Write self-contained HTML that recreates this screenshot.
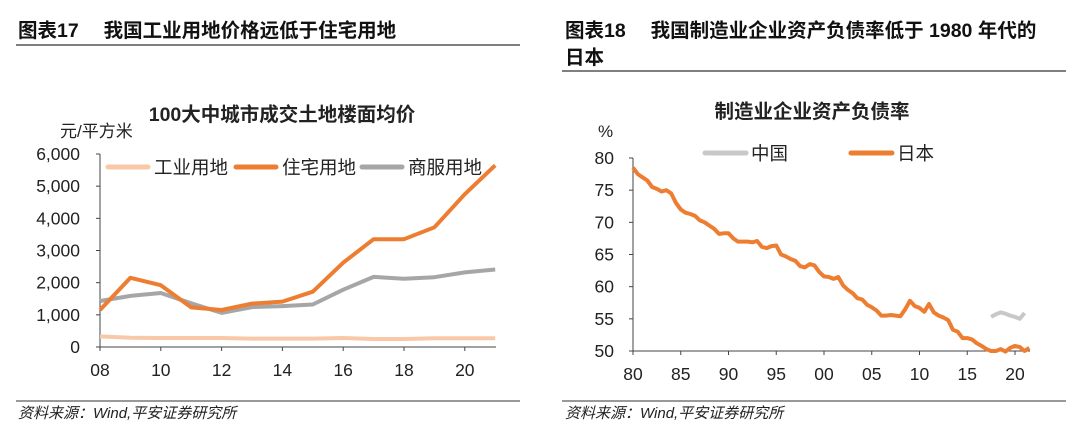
<!DOCTYPE html>
<html><head><meta charset="utf-8"><style>
body{margin:0;background:#fff;width:1080px;height:439px;overflow:hidden;font-family:"Liberation Sans","Noto Sans CJK SC",sans-serif;}
svg text{font-family:"Liberation Sans","Noto Sans CJK SC",sans-serif;}
</style></head><body>
<svg id="s" width="1080" height="439" viewBox="0 0 1080 439">
<g>
<text x="18" y="37" font-size="19.5" font-weight="bold" fill="#111">图表17　 我国工业用地价格远低于住宅用地</text>
<line x1="16" y1="45" x2="520" y2="45" stroke="#333" stroke-width="1.3"/>
</g>
<g>
<text x="565" y="37" font-size="19.5" font-weight="bold" fill="#111">图表18　 我国制造业企业资产负债率低于 1980 年代的</text>
<text x="565" y="64" font-size="19.5" font-weight="bold" fill="#111">日本</text>
<line x1="562" y1="71" x2="1066" y2="71" stroke="#333" stroke-width="1.3"/>
</g>
<text x="282" y="121" font-size="19.5" font-weight="bold" text-anchor="middle" fill="#222">100大中城市成交土地楼面均价</text>
<text x="60" y="137" font-size="17" fill="#222">元/平方米</text>
<text x="812" y="118" font-size="19.5" font-weight="bold" text-anchor="middle" fill="#222">制造业企业资产负债率</text>
<text x="598" y="137" font-size="17" fill="#222">%</text>
<g id="left"></g>
<g id="right"></g>
<g>
<line x1="16" y1="401" x2="520" y2="401" stroke="#333"/>
<line x1="562" y1="401" x2="1066" y2="401" stroke="#333"/>
<text x="18" y="418" font-size="15" font-style="italic" fill="#222">资料来源：Wind,平安证券研究所</text>
<text x="565" y="418" font-size="15" font-style="italic" fill="#222">资料来源：Wind,平安证券研究所</text>
</g>
</svg>
<script>
const NS="http://www.w3.org/2000/svg";
const leftYears=[2008,2009,2010,2011,2012,2013,2014,2015,2016,2017,2018,2019,2020,2021];
const industrialPrice=[330,290,280,280,280,260,260,260,280,250,250,270,270,270];
const residentialPrice=[1150,2150,1920,1230,1150,1350,1410,1720,2620,3350,3350,3720,4750,5650];
const commercialPrice=[1430,1590,1680,1360,1060,1240,1270,1320,1780,2180,2120,2170,2320,2410];
const leftYTicks=[0,1000,2000,3000,4000,5000,6000];
const leftXTicks=["08","10","12","14","16","18","20"];
const japanRatio=[78.5,77.5,77,76.5,75.5,75.2,74.8,75,74.5,73,72,71.5,71.3,71,70.3,70,69.5,69,68.2,68.3,68.3,67.5,67,67,67,66.9,67.1,66.2,66,66.3,66.4,65,64.7,64.3,64,63.2,63,63.5,63.3,62.3,61.6,61.5,61.2,61.5,60.2,59.5,59,58.2,58,57.2,56.8,56.3,55.5,55.5,55.6,55.5,55.4,56.5,57.8,57,56.7,56.1,57.3,56,55.5,55.2,54.8,53.3,53,52,52,51.8,51.2,50.8,50.3,50,50,50.3,49.9,50.5,50.8,50.6,50,50.5];
const japanStart=1980, step=0.5;
const chinaRatio=[55.3,55.7,56,55.8,55.5,55.3,55.0,55.9];
const chinaStart=2017.5;
const rightYTicks=[50,55,60,65,70,75,80];
const rightXTicks=["80","85","90","95","00","05","10","15","20"];

function el(tag,attrs,parent,txt){const e=document.createElementNS(NS,tag);for(const k in attrs)e.setAttribute(k,attrs[k]);if(txt!=null)e.textContent=txt;parent.appendChild(e);return e;}

const L=document.getElementById('left');
const lx=y=>100+(y-2008)*30.4, ly=v=>347-v/6000*193;
el('line',{x1:100,y1:154,x2:100,y2:347,stroke:'#444'},L);
el('line',{x1:100,y1:347,x2:496,y2:347,stroke:'#444'},L);
leftYTicks.forEach(t=>{const y=ly(t);el('line',{x1:96,y1:y,x2:100,y2:y,stroke:'#444'},L);
 const tx=el('text',{x:80,y:y+6,'font-size':17.5,'text-anchor':'end',fill:'#222'},L,t.toLocaleString('en-US'));
 
 });
leftXTicks.forEach((t,i)=>{const x=lx(2008+i*2);el('line',{x1:x,y1:347,x2:x,y2:351,stroke:'#444'},L);
 const tx=el('text',{x:x,y:376,'font-size':17.5,'text-anchor':'middle',fill:'#222'},L,t);
 
 });
function line(g,xs,vals,fx,fy,color,w,name){const p=vals.map((v,i)=>fx(xs[i]).toFixed(1)+','+fy(v).toFixed(1)).join(' ');
 const e=el('polyline',{points:p,fill:'none',stroke:color,'stroke-width':w,'stroke-linejoin':'round'},g);
 
 }
line(L,leftYears,industrialPrice,lx,ly,'#f8c8a8',4,'industrial-line');
line(L,leftYears,commercialPrice,lx,ly,'#a6a6a6',4,'commercial-line');
line(L,leftYears,residentialPrice,lx,ly,'#ed7d31',4,'residential-line');
[['工业用地','#f8c8a8',108],['住宅用地','#ed7d31',236],['商服用地','#a6a6a6',362]].forEach(([t,c,x])=>{
 const g=el('g',{},L);
 
 
 el('line',{x1:x,y1:167,x2:x+40,y2:167,stroke:c,'stroke-width':5,'stroke-linecap':'round'},g);
 el('text',{x:x+46,y:174,'font-size':18.5,fill:'#222'},g,t);});

const R=document.getElementById('right');
const rx=y=>633+(y-1980)*9.55, ry=v=>351-(v-50)/30*193;
el('line',{x1:633,y1:158,x2:633,y2:351,stroke:'#444'},R);
el('line',{x1:633,y1:351,x2:1030,y2:351,stroke:'#444'},R);
rightYTicks.forEach(t=>{const y=ry(t);el('line',{x1:629,y1:y,x2:633,y2:y,stroke:'#444'},R);
 const tx=el('text',{x:614,y:y+6,'font-size':17.5,'text-anchor':'end',fill:'#222'},R,t);
 
 });
rightXTicks.forEach((t,i)=>{const x=rx(1980+i*5);el('line',{x1:x,y1:351,x2:x,y2:355,stroke:'#444'},R);
 const tx=el('text',{x:x,y:380,'font-size':17.5,'text-anchor':'middle',fill:'#222'},R,t);
 
 });
line(R,japanRatio.map((_,i)=>japanStart+i*step),japanRatio,rx,ry,'#ed7d31',4,'japan-line');
line(R,chinaRatio.map((_,i)=>chinaStart+i*step),chinaRatio,rx,ry,'#c8c8c8',4,'china-line');
[['中国','#c8c8c8',705],['日本','#ed7d31',851]].forEach(([t,c,x])=>{
 const g=el('g',{},R);
 
 
 el('line',{x1:x,y1:153,x2:x+41,y2:153,stroke:c,'stroke-width':5,'stroke-linecap':'round'},g);
 el('text',{x:x+46,y:160,'font-size':18.5,fill:'#222'},g,t);});
</script>
</body></html>
